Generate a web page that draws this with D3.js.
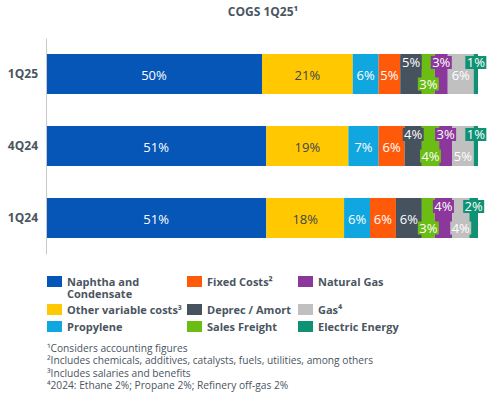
<!DOCTYPE html>
<html>
<head>
<meta charset="utf-8">
<script src="https://d3js.org/d3.v7.min.js"></script>
<style>
  body { margin: 0; background: #fff; }
  svg text { font-family: "Open Sans", sans-serif; }
</style>
</head>
<body>
<div id="chart"></div>
<script>
// Data
const periods = ["1Q25", "4Q24", "1Q24"];
const costItems = ["Naphtha and Condensate", "Other variable costs³", "Propylene", "Fixed Costs²",
                   "Deprec / Amort", "Sales Freight", "Natural Gas", "Gas⁴", "Electric Energy"];
const share1Q25 = [50, 21, 6, 5, 5, 3, 3, 6, 1];
const share4Q24 = [51, 19, 7, 6, 4, 4, 3, 5, 1];
const share1Q24 = [51, 18, 6, 6, 6, 3, 4, 4, 2];
const footnotes = [
  "¹Considers accounting figures",
  "²Includes chemicals, additives, catalysts, fuels, utilities, among others",
  "³Includes salaries and benefits",
  "⁴2024: Ethane 2%; Propane 2%; Refinery off-gas 2%"
];

const colors = ["#0556b7", "#ffc800", "#10a7e0", "#ff5a0a", "#46525e", "#6bbd14", "#8c379c", "#c0c0c0", "#0e9273"];
const textColor = "#4a5561";

const width = 491, height = 399;
const svg = d3.select("#chart").append("svg")
  .attr("width", width)
  .attr("height", height);

// title
svg.append("text")
  .attr("x", 263).attr("y", 16)
  .attr("text-anchor", "middle")
  .attr("font-size", 12).attr("font-weight", "bold")
  .attr("fill", textColor)
  .text("COGS 1Q25¹");

const x = d3.scaleLinear().domain([0, 100]).range([46, 478]);
const y = d3.scaleBand().domain(periods).range([38, 254])
  .paddingInner(0.444).paddingOuter(0.222);

const rows = [share1Q25, share4Q24, share1Q24].map((vals, r) => {
  let acc = 0;
  return vals.map((v, i) => {
    const seg = { period: periods[r], i: i, value: v, x0: acc, x1: acc + v };
    acc += v;
    return seg;
  });
});

svg.append("g").selectAll("g.row")
  .data(rows)
  .join("g")
  .attr("class", "row")
  .selectAll("rect")
  .data(d => d)
  .join("rect")
  .attr("x", d => x(d.x0))
  .attr("y", d => y(d.period))
  .attr("width", d => x(d.x1) - x(d.x0))
  .attr("height", y.bandwidth())
  .attr("fill", d => colors[d.i]);

// labels: small segments from Deprec on are staggered top / bottom
const all = rows.flat();
const staggered = d => d.i >= 4 && d.value < 6;
function labelY(d) {
  const top = y(d.period), h = y.bandwidth();
  if (staggered(d)) return d.i % 2 === 0 ? top + 8.5 : top + h - 10;
  return top + h / 2 + 1;
}
const labels = svg.append("g").selectAll("g")
  .data(all)
  .join("g")
  .attr("transform", d => `translate(${(x(d.x0) + x(d.x1)) / 2},${labelY(d)})`);

labels.filter(staggered)
  .append("rect")
  .attr("x", -10.5).attr("y", -6.5)
  .attr("width", 21).attr("height", 13)
  .attr("fill", d => colors[d.i]);

labels.append("text")
  .attr("text-anchor", "middle")
  .attr("dominant-baseline", "central")
  .attr("font-size", 13)
  .attr("fill", d => d.i === 1 ? "#3d4650" : "#fff")
  .text(d => d.value + "%");

// axis
const axis = svg.append("g")
  .attr("transform", "translate(46,0)")
  .call(d3.axisLeft(y).tickSize(0).tickPadding(8));
axis.select(".domain").attr("stroke", "#c8c8c8");
axis.selectAll("text")
  .attr("font-size", 12).attr("font-weight", "bold")
  .attr("fill", textColor)
  .attr("font-family", "Open Sans, sans-serif");

// legend
const colX = [47, 187, 298];
const rowY = [276, 304, 321];
const legend = svg.append("g").selectAll("g")
  .data(costItems)
  .join("g")
  .attr("transform", (d, i) => `translate(${colX[Math.floor(i / 3)]},${rowY[i % 3]})`);
legend.append("rect")
  .attr("width", 15).attr("height", 11)
  .attr("fill", (d, i) => colors[i]);
legend.append("text")
  .attr("x", 20).attr("y", 9.5)
  .attr("font-size", 11).attr("font-weight", "bold")
  .attr("fill", textColor)
  .each(function(d) {
    const parts = d === "Naphtha and Condensate" ? ["Naphtha and", "Condensate"] : [d];
    d3.select(this).selectAll("tspan")
      .data(parts)
      .join("tspan")
      .attr("x", 20)
      .attr("dy", (p, k) => k === 0 ? 0 : 12)
      .text(p => p);
  });

// footnotes
svg.append("g").selectAll("text")
  .data(footnotes)
  .join("text")
  .attr("x", 47)
  .attr("y", (d, i) => 351.5 + i * 12.5)
  .attr("font-size", 10.2)
  .attr("fill", textColor)
  .text(d => d);
</script>
</body>
</html>
